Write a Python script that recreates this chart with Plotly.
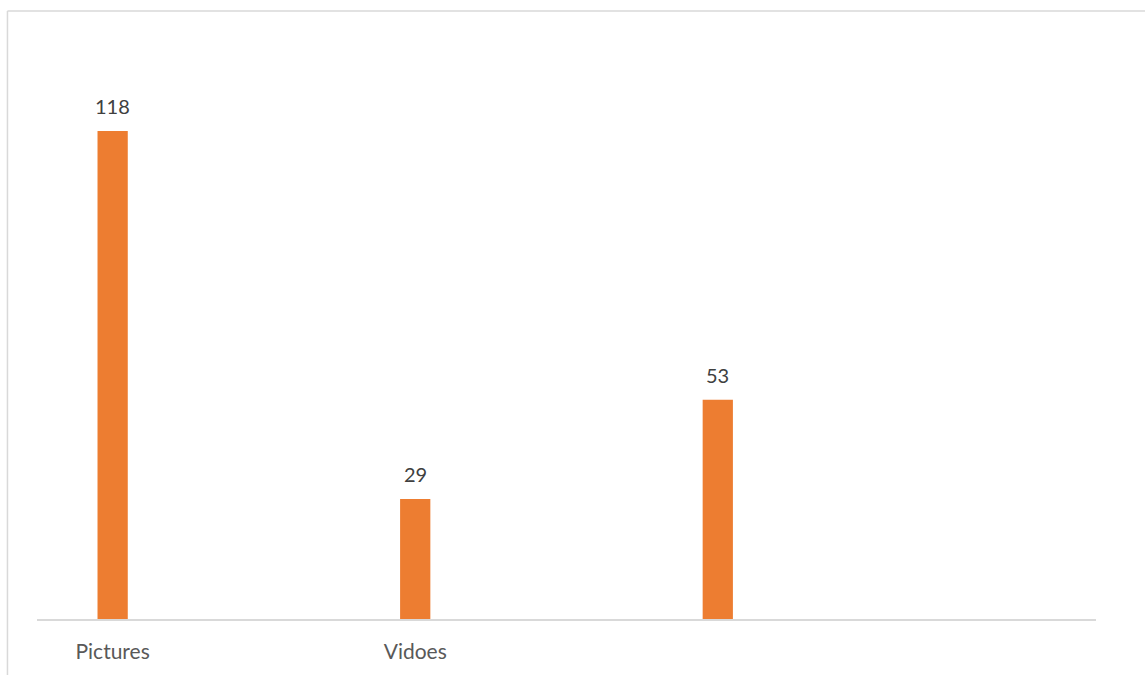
import plotly.graph_objects as go

# Media counts
categories = ["Pictures", "Vidoes", ""]
values = [118, 29, 53]
positions = [0, 1, 2]

BAR_COLOR = "#ED7D31"
FONT = "Lato"

fig = go.Figure(
    go.Bar(
        x=positions,
        y=values,
        width=0.1,
        marker=dict(color=BAR_COLOR, line=dict(width=0)),
        hoverinfo="skip",
    )
)

# Value labels above each bar
for xp, v in zip(positions, values):
    fig.add_annotation(
        x=xp, y=v, text=str(v), showarrow=False,
        xanchor="center", yanchor="bottom", yshift=11,
        font=dict(family=FONT, size=20, color="#404040"),
    )

# Chart-area frame (top and left edges)
frame = dict(color="#d9d9d9", width=1.5)
fig.add_shape(type="line", xref="paper", yref="paper",
              x0=-0.0279, x1=1.05, y0=1.0499, y1=1.0499, line=frame)
fig.add_shape(type="line", xref="paper", yref="paper",
              x0=-0.0279, x1=-0.0279, y0=1.0499, y1=-0.1, line=frame)

fig.update_layout(
    width=1145, height=675,
    margin=dict(l=37, r=49, t=40, b=54),
    paper_bgcolor="white", plot_bgcolor="white",
    showlegend=False,
    xaxis=dict(
        range=[-0.25, 3.25],
        tickvals=positions, ticktext=categories,
        showgrid=False, zeroline=False,
        showline=True, linecolor="#d9d9d9", linewidth=2,
        ticks="", ticklen=0, ticklabelstandoff=13,
        tickfont=dict(family=FONT, size=21, color="#595959"),
        fixedrange=True,
    ),
    yaxis=dict(
        range=[0, 140], visible=False, showgrid=False, zeroline=False,
        fixedrange=True,
    ),
)

fig.write_html("out.html", config={"displayModeBar": False})
